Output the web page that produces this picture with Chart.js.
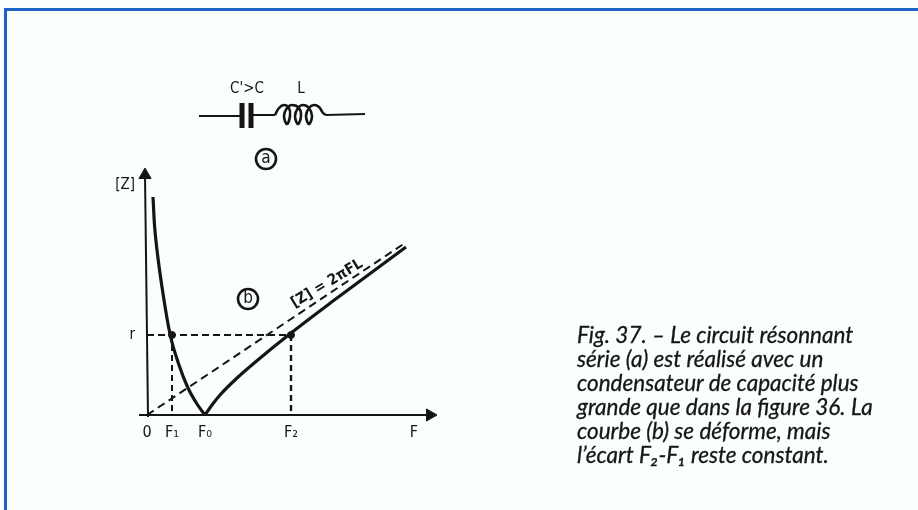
<!DOCTYPE html>
<html lang="fr">
<head>
<meta charset="utf-8">
<title>Fig. 37</title>
<script src="https://cdn.jsdelivr.net/npm/chart.js@4"></script>
<style>
    html, body { margin: 0; padding: 0; background: #fafffe; overflow: hidden; }
    #page { position: relative; width: 918px; height: 510px; }
    #page canvas { position: absolute; left: 0; top: 0; }
    #frame { position: absolute; left: 4px; top: 8px; right: 0; bottom: 0; border-left: 3px solid #1c62c6; border-top: 3px solid #1c62c6; }
    #caption { position: absolute; left: 577px; top: 323px; font: italic 22.5px/24px Lato, "Open Sans", sans-serif; -webkit-text-stroke: 0.3px #161616; color: #161616; white-space: nowrap; }
</style>
</head>
<body>
<div id="page">
    <div id="frame"></div>
    <canvas id="figChart" width="918" height="510"></canvas>
    <div id="caption"></div>
</div>
<script>
// Frequency and impedance are in arbitrary units, the figure has no numbers
const freqTicks = [0, 25, 58, 144, 267];
const freqLabels = ['0', 'F₁', 'F₀', 'F₂', 'F'];
const zTicks = [80, 230];
const zLabels = ['r', '[Z]'];

// Curve (b)
const curveLeft = [[6, 218], [7.5, 190], [10, 165], [15, 128], [23, 81], [32, 50], [41, 27], [50, 11], [58, 0]];
const curveRight = [[58, 0], [65, 10], [73, 20], [90, 37], [106, 51], [144, 82], [186, 114], [259, 168]];
const asymptote = [[0, 0], [258, 172]];
const rLevel = [[0, 80], [144, 80]];
const f1Drop = [[25, 80], [25, 0]];
const f2Drop = [[144, 80], [144, 0]];
const crossings = [[25, 80], [144, 80]];

// Axes
const freqAxis = [[-8, 0], [283, 0]];
const zAxis = [[1, -2], [-2, 240]];
const freqArrow = [[283, 0]];
const zArrow = [[-2, 240]];

// Circuit (a)
const wireLeft = [[52, 299], [93, 299]];
const plateOne = [[95, 312], [95, 287]];
const plateTwo = [[104, 312], [104, 287]];
const wireMiddle = [[104, 300], [128, 300]];
const coil = [[128, 300], [132, 307], [137, 310], [142, 307], [143, 299], [140, 291], [137, 299], [140, 307],
    [145, 310], [152, 307], [154, 299], [151, 291], [148, 299], [151, 307], [156, 310], [162, 307],
    [165, 299], [162, 291], [159, 299], [162, 307], [167, 310], [172, 308], [176, 302], [179, 300]];
const wireRight = [[179, 300], [218, 301]];

const partMarks = [[119, 256], [101, 116]];
const figureTexts = ["C'>C", 'L', 'a', 'b', '[Z] = 2πFL'];
const figureTextSpots = [[100, 326], [154, 326], [119, 256], [101, 116], [184, 125]];
const captionLines = [
    'Fig. 37. – Le circuit résonnant',
    'série (a) est réalisé avec un',
    'condensateur de capacité plus',
    'grande que dans la figure 36. La',
    'courbe (b) se déforme, mais',
    'l’écart F₂-F₁ reste constant.'
];

const inkColor = '#151515';
const narrowFont = '"DejaVu Sans Condensed", "Liberation Sans", sans-serif';

function toPoints(pairs) {
    return pairs.map(p => ({ x: p[0], y: p[1] }));
}

// Function to build a plain line dataset
function lineSet(pairs, width, dash, smooth) {
    return {
        data: toPoints(pairs),
        showLine: true,
        clip: false,
        borderColor: inkColor,
        borderWidth: width,
        borderDash: dash || [],
        tension: smooth === 'coil' ? 0.4 : 0,
        cubicInterpolationMode: smooth === 'curve' ? 'monotone' : 'default',
        pointRadius: 0
    };
}

function arrowSet(pairs, rotation) {
    return {
        data: toPoints(pairs),
        clip: false,
        pointStyle: 'triangle',
        pointRadius: 7,
        rotation: rotation,
        backgroundColor: inkColor,
        borderColor: inkColor
    };
}

// Labels inside the plot that are not axis ticks
const figureLabels = {
    id: 'figureLabels',
    afterDatasetsDraw(chart) {
        const { ctx, scales } = chart;
        figureTexts.forEach((text, i) => {
            const px = scales.x.getPixelForValue(figureTextSpots[i][0]);
            const py = scales.y.getPixelForValue(figureTextSpots[i][1]);
            ctx.save();
            ctx.translate(px, py);
            ctx.fillStyle = inkColor;
            ctx.textAlign = 'center';
            ctx.textBaseline = 'middle';
            ctx.font = '15px ' + narrowFont;
            if (i === 2 || i === 3) {
                ctx.font = '17px ' + narrowFont;
            } else if (i === 4) {
                ctx.rotate(-31 * Math.PI / 180);
                ctx.textBaseline = 'bottom';
                ctx.font = 'bold 15px ' + narrowFont;
            }
            ctx.fillText(text, 0, 0);
            ctx.restore();
        });
    }
};

document.getElementById('caption').innerHTML = captionLines.join('<br>');

new Chart(document.getElementById('figChart').getContext('2d'), {
    type: 'scatter',
    data: {
        datasets: [
            lineSet(freqAxis, 2),
            lineSet(zAxis, 2),
            arrowSet(freqArrow, 90),
            arrowSet(zArrow, 0),
            lineSet(curveLeft, 3.2, null, 'curve'),
            lineSet(curveRight, 3.2, null, 'curve'),
            lineSet(asymptote, 2, [8, 5]),
            lineSet(rLevel, 2, [7, 4]),
            lineSet(f1Drop, 2, [6, 4]),
            lineSet(f2Drop, 2.4, [6, 4]),
            { data: toPoints(crossings), pointRadius: 3.5, backgroundColor: inkColor, borderColor: inkColor },
            lineSet(wireLeft, 2),
            lineSet(plateOne, 5),
            lineSet(plateTwo, 5),
            lineSet(wireMiddle, 2),
            lineSet(coil, 2.6, null, 'coil'),
            lineSet(wireRight, 2),
            { data: toPoints(partMarks), pointRadius: 10, borderWidth: 2.6, borderColor: inkColor, backgroundColor: 'transparent' }
        ]
    },
    options: {
        responsive: false,
        animation: false,
        layout: { padding: { top: 80, right: 480 } },
        plugins: { legend: { display: false }, tooltip: { enabled: false } },
        scales: {
            x: {
                type: 'linear',
                min: -8,
                max: 291,
                grid: { display: false },
                border: { display: false },
                afterFit: scale => { scale.height = 93; },
                afterBuildTicks: scale => { scale.ticks = freqTicks.map(value => ({ value: value })); },
                ticks: {
                    autoSkip: false,
                    maxRotation: 0,
                    padding: -2,
                    color: inkColor,
                    font: { family: narrowFont, size: 16 },
                    callback: value => freqLabels[freqTicks.indexOf(value)]
                }
            },
            y: {
                type: 'linear',
                min: -2,
                max: 335,
                grid: { display: false },
                border: { display: false },
                afterFit: scale => { scale.width = 139; },
                afterBuildTicks: scale => { scale.ticks = zTicks.map(value => ({ value: value })); },
                ticks: {
                    autoSkip: false,
                    padding: -4,
                    color: inkColor,
                    font: { family: narrowFont, size: 15 },
                    callback: value => zLabels[zTicks.indexOf(value)]
                }
            }
        }
    },
    plugins: [figureLabels]
});
</script>
</body>
</html>
